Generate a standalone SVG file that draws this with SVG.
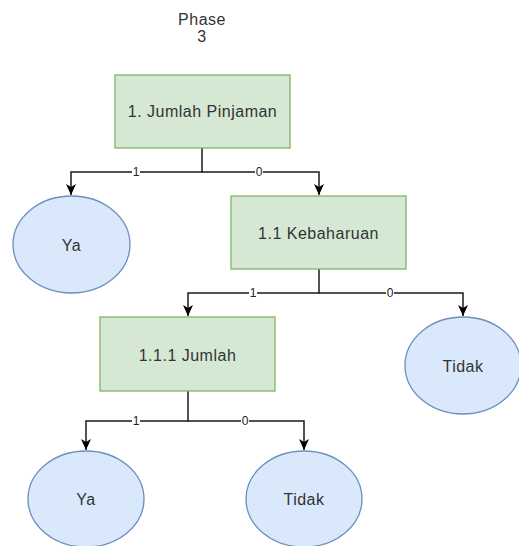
<svg xmlns="http://www.w3.org/2000/svg" width="519" height="546" viewBox="0 0 519 546">
<style>
.box{fill:#d5e8d4;stroke:#82b366;stroke-width:1.3}
.ell{fill:#dae8fc;stroke:#6c8ebf;stroke-width:1.3}
.t{font-family:"Liberation Sans",Arial,sans-serif;font-size:16px;letter-spacing:0.5px;fill:#333;text-anchor:middle;dominant-baseline:central}
.lbl{font-family:"Liberation Sans",Arial,sans-serif;font-size:12px;fill:#222;text-anchor:middle;dominant-baseline:central}
.c{fill:none;stroke:#1a1a1a;stroke-width:1.5}
.lb{fill:#fff}
</style>
<defs>
<marker id="arr" viewBox="0 0 12 12" refX="11" refY="6" markerWidth="12" markerHeight="12" orient="auto" markerUnits="userSpaceOnUse">
<path d="M0,1 L11,6 L0,11 L3,6 Z" fill="#000"/>
</marker>
</defs>
<text class="t" x="202" y="19">Phase</text>
<text class="t" x="202" y="36">3</text>
<g id="connectors">
<path class="c" d="M202,148 V172 H71 V195" marker-end="url(#arr)"/>
<path class="c" d="M202,172 H319 V195" marker-end="url(#arr)"/>
<path class="c" d="M319,269 V293 H188 V316" marker-end="url(#arr)"/>
<path class="c" d="M319,293 H463 V316" marker-end="url(#arr)"/>
<path class="c" d="M188,391 V421 H86 V450" marker-end="url(#arr)"/>
<path class="c" d="M188,421 H304 V450" marker-end="url(#arr)"/>
<rect class="lb" x="132" y="166" width="8" height="12"/><text class="lbl" x="136" y="172">1</text>
<rect class="lb" x="255" y="166" width="8" height="12"/><text class="lbl" x="259" y="172">0</text>
<rect class="lb" x="249" y="287" width="8" height="12"/><text class="lbl" x="253" y="293">1</text>
<rect class="lb" x="386" y="287" width="8" height="12"/><text class="lbl" x="390" y="293">0</text>
<rect class="lb" x="132" y="415" width="8" height="12"/><text class="lbl" x="136" y="421">1</text>
<rect class="lb" x="241" y="415" width="8" height="12"/><text class="lbl" x="245" y="421">0</text>
</g>
<g id="n1"><rect class="box" x="115" y="75" width="175" height="73"/><text class="t" x="202.5" y="111">1. Jumlah Pinjaman</text></g>
<g id="ya1"><ellipse class="ell" cx="71.5" cy="244.5" rx="58.5" ry="48.5"/><text class="t" x="71.5" y="245">Ya</text></g>
<g id="n11"><rect class="box" x="231" y="196" width="175" height="73"/><text class="t" x="318.5" y="233">1.1 Kebaharuan</text></g>
<g id="n111"><rect class="box" x="100" y="317" width="175" height="74"/><text class="t" x="187.5" y="355">1.1.1 Jumlah</text></g>
<g id="tidak1"><ellipse class="ell" cx="463" cy="365.5" rx="58" ry="48.5"/><text class="t" x="463" y="366">Tidak</text></g>
<g id="ya2"><ellipse class="ell" cx="86" cy="499" rx="58" ry="48"/><text class="t" x="86" y="499">Ya</text></g>
<g id="tidak2"><ellipse class="ell" cx="304" cy="499" rx="58" ry="48"/><text class="t" x="304" y="499">Tidak</text></g>
</svg>
